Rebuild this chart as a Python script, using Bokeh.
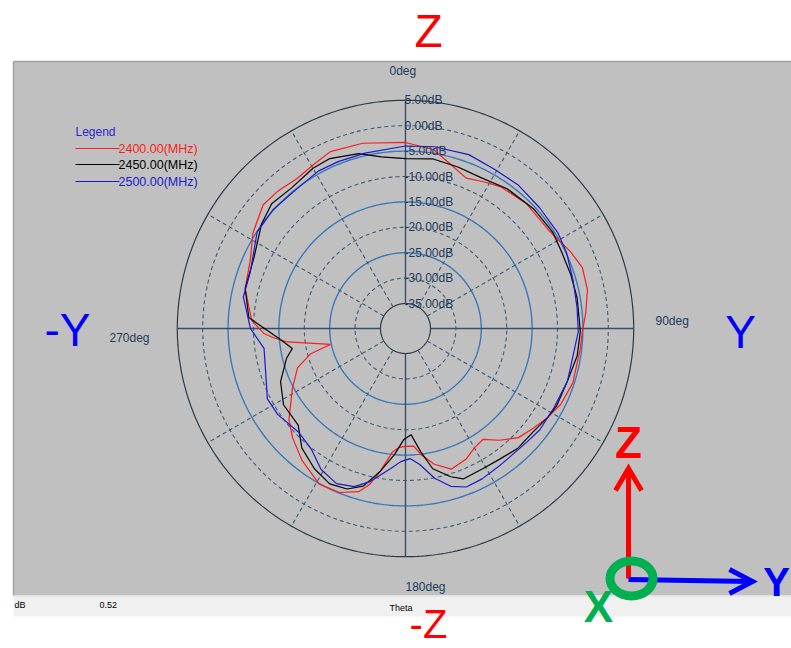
import numpy as np
from bokeh.plotting import figure
from bokeh.models import Range1d
from bokeh.core.properties import value
from bokeh.embed import file_html
from bokeh.resources import INLINE

# ---------------- data (theta in deg, clockwise from top; gain in dB) ----------------
theta_2400 = [0, 9, 15, 22, 28, 34, 44, 56, 65, 71, 78, 85, 91, 97, 108, 116, 122, 128, 134, 140, 145,
              150, 155, 162, 168, 173, 176, 180, 183, 186, 190, 193, 196, 202, 209, 218, 226, 232, 242,
              250, 255, 258, 263.5, 266, 268, 273, 284, 294, 302, 311, 317, 324, 331, 337, 347, 360]
db_2400 = [-3.3, -4.3, -6.3, -8.0, -7.2, -6.3, -5.7, -5.7, -4.1, -3.1, -3.3, -4.3, -5.1, -5.3, -5.3, -5.9,
           -6.9, -8.0, -9.0, -11.2, -13.3, -12.8, -11.6, -10.8, -12.6, -14.9, -16.7, -16.7, -16.5, -15.5,
           -11.4, -8.4, -6.5, -5.1, -4.9, -6.9, -9.0, -10.8, -14.7, -17.3, -20.5, -24.8, -16.5, -13.9,
           -12.0, -9.6, -7.4, -6.5, -4.5, -2.8, -3.0, -3.5, -2.9, -2.1, -2.5, -3.3]

theta_2450 = [0, 9, 18, 27, 36, 47, 57, 64, 72, 80, 91, 99, 108, 117, 122, 129, 137, 144, 151, 159, 163,
              169, 173, 177, 181, 185, 190, 195, 200, 206, 213, 221, 228, 238, 247, 256, 260, 265, 274,
              284, 295, 306, 313, 321, 330, 336, 345, 352, 360]
db_2450 = [-6.5, -6.1, -6.5, -6.7, -5.9, -5.4, -5.3, -5.7, -5.7, -5.6, -5.5, -5.7, -6.4, -6.5, -6.9, -7.6,
           -7.6, -8.2, -8.4, -8.2, -9.4, -11.8, -15.5, -19.0, -18.0, -15.0, -11.4, -7.8, -6.3, -5.9, -7.0,
           -8.8, -11.5, -11.6, -13.2, -15.8, -17.3, -15.2, -9.0, -7.4, -7.0, -4.9, -3.9, -4.3, -3.5, -3.3,
           -4.3, -5.8, -6.5]

theta_2500 = [0, 9, 20, 29, 38, 48, 58, 65, 74, 83, 91, 99, 108, 118, 127, 133, 145, 153, 159, 164, 169,
              174, 178, 182, 186, 193, 198, 204, 211, 218, 226, 236, 243, 252, 262, 270, 281, 290, 303,
              312, 322, 331, 338, 347, 360]
db_2500 = [-4.0, -3.7, -3.5, -4.0, -4.0, -4.4, -4.5, -4.9, -5.6, -5.9, -5.9, -6.5, -6.4, -6.8, -6.8, -7.2,
           -7.2, -6.7, -6.5, -7.6, -9.9, -13.0, -14.3, -13.7, -12.2, -9.0, -7.2, -6.5, -7.6, -9.8, -10.6,
           -9.6, -9.4, -11.0, -11.8, -9.4, -7.4, -7.4, -5.1, -4.9, -5.1, -4.5, -4.5, -4.5, -4.0]

series_names = ["2400.00(MHz)", "2450.00(MHz)", "2500.00(MHz)"]
series_colors = ["#ff1a1a", "#000000", "#1a1acd"]

ring_db = [5, 0, -5, -10, -15, -20, -25, -30, -35]
ring_labels = ["5.00dB", "0.00dB", "-5.00dB", "-10.00dB", "-15.00dB", "-20.00dB", "-25.00dB", "-30.00dB", "-35.00dB"]
spoke_deg = [30, 60, 120, 150, 210, 240, 300, 330]
angle_deg = [0, 90, 180, 270]
angle_labels = ["0deg", "90deg", "180deg", "270deg"]

# ---------------- layout ----------------
W, H = 791, 648
CX, CY = 405.0, 328.0
R0, K = 25.0, 5.08       # radius at -35 dB, px per dB
DB_MIN = -35.0


def rad(db):
    return R0 + (np.asarray(db, dtype=float) - DB_MIN) * K


def pol(theta_deg, r):
    t = np.radians(np.asarray(theta_deg, dtype=float))
    return CX + r * np.sin(t), CY - r * np.cos(t)


p = figure(width=W, height=H, output_backend="svg", toolbar_location=None,
           x_range=Range1d(0, W), y_range=Range1d(H, 0),
           x_axis_type=None, y_axis_type=None, min_border=0)
p.grid.visible = False
p.outline_line_color = None
p.background_fill_color = "white"
p.border_fill_color = "white"

# panel + status bar
p.quad(left=13, right=800, top=61, bottom=595, fill_color="#c0c0c0", line_color=None)
p.segment(x0=[13, 13], y0=[61, 61], x1=[800, 13], y1=[61, 595], line_color="#a0a0a0", line_width=1.5)
p.quad(left=13, right=800, top=595, bottom=616, fill_color="#f0f0f0", line_color=None)
p.line([13, 800], [595.5, 595.5], line_color="#dcdcdc", line_width=1)

# rings
tt = np.linspace(0, 360, 361)
for d in ring_db:
    x, y = pol(tt, rad(d))
    if d in (5, -35):
        p.line(x, y, line_color="#2c3a48", line_width=1.2)
    elif d in (-5, -15, -25):
        p.line(x, y, line_color="#3a78b8", line_width=1.4)
    else:
        p.line(x, y, line_color="#3c5a78", line_width=1.1, line_dash="4 3")

# spokes
r_in, r_out = rad(-35), rad(5)
for a in spoke_deg:
    x, y = pol([a, a], np.array([r_in, r_out]))
    p.line(x, y, line_color="#3c5a78", line_width=1.1, line_dash="4 3")
for a in angle_deg:
    x, y = pol([a, a], np.array([r_in, r_out]))
    p.line(x, y, line_color="#34506c", line_width=1.4)

# curves
for th, db, c in zip([theta_2400, theta_2450, theta_2500], [db_2400, db_2450, db_2500], series_colors):
    x, y = pol(th, rad(db))
    p.line(x, y, line_color=c, line_width=1.2)

# ring labels
lx = [CX - 1] * len(ring_db)
ly = list(CY - rad(ring_db))
p.text(x=lx, y=ly, text=ring_labels, text_font=value("Liberation Sans"), text_font_size="12px",
       text_color="#1e3a5c", text_align="left", text_baseline="middle")

# angle labels
ax_lbl_x = [CX - 16, CX + 250, CX, CX - 296]
ax_lbl_y = [70, 320, 586, 337]
p.text(x=ax_lbl_x, y=ax_lbl_y, text=angle_labels, text_font=value("Liberation Sans"), text_font_size="12px",
       text_color="#1e3a5c", text_align="left", text_baseline="middle")

# legend
p.text(x=[75], y=[131], text=["Legend"], text_font=value("Liberation Sans"), text_font_size="12px",
       text_color="#2a2ad0", text_align="left", text_baseline="middle")
leg_y = [148, 164, 181]
for yy, c, nm in zip(leg_y, series_colors, series_names):
    p.line([75, 119], [yy, yy], line_color=c, line_width=1.2)
    p.text(x=[118], y=[yy], text=[nm], text_font=value("Liberation Sans"), text_font_size="12.5px",
           text_color=c, text_align="left", text_baseline="middle")

# status bar texts
p.text(x=[14, 99], y=[604, 604], text=["dB", "0.52"], text_font=value("Liberation Sans"),
       text_font_size="9px", text_color="#000000", text_align="left", text_baseline="middle")
p.text(x=[389], y=[607], text=["Theta"], text_font=value("Liberation Sans"),
       text_font_size="9px", text_color="#000000", text_align="left", text_baseline="middle")

# direction letters
def big(x, y, t, color, size="46px", style="normal", baseline="middle"):
    p.text(x=[x], y=[y], text=[t], text_font=value("Liberation Sans"), text_font_size=size,
           text_font_style=style, text_color=color, text_align="center", text_baseline=baseline)

big(428, 30, "Z", "#ff0000")
big(67, 329, "-Y", "#0000ff")
big(740, 331, "Y", "#0000ff")
big(428, 623, "-Z", "#ff0000", size="40px")

# coordinate triad
p.line([628, 628], [578, 470], line_color="#ff0000", line_width=5)
p.line([615, 628, 641], [490, 468, 490], line_color="#ff0000", line_width=5, line_join="miter")
p.line([628, 750], [579, 581], line_color="#0000ff", line_width=5)
p.line([729, 752, 729], [569, 581, 593], line_color="#0000ff", line_width=5, line_join="miter")
p.ellipse(x=[631], y=[578], width=43, height=35, fill_color=None, line_color="#00b050", line_width=9)
big(628, 442, "Z", "#ff0000", size="44px", style="bold")
big(598, 606, "X", "#00b050", size="44px", style="bold")
big(776, 581, "Y", "#0000ff", size="40px", style="bold")

open("out.html", "w").write(file_html(p, INLINE))
